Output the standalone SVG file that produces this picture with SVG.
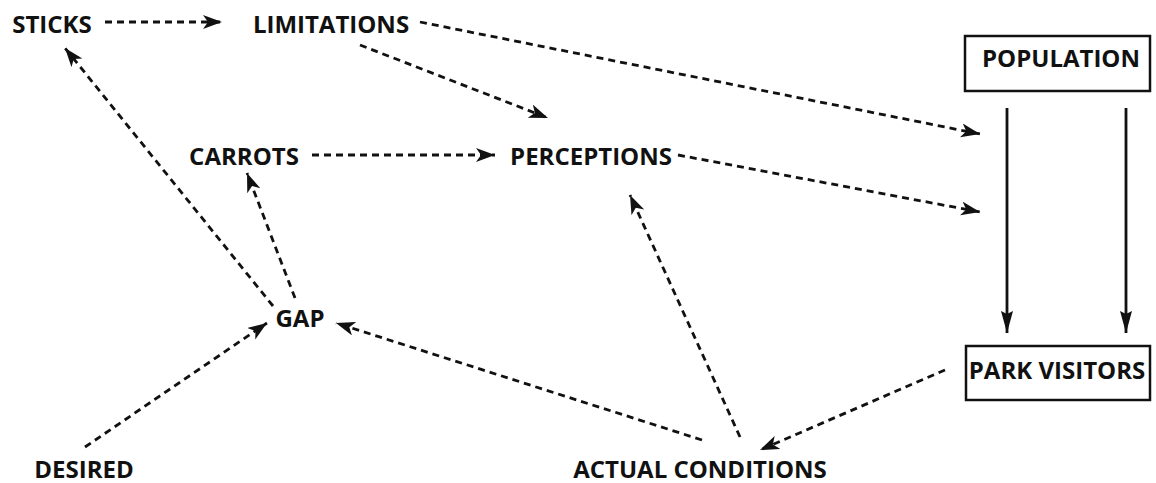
<svg xmlns="http://www.w3.org/2000/svg" width="1156" height="483" viewBox="0 0 1156 483">
<style>
text{font-family:"Open Sans","Liberation Sans",sans-serif;font-weight:bold;font-size:24px;fill:#111;text-anchor:middle}
.d{stroke:#111;stroke-width:2.8;stroke-dasharray:7 5;fill:none;marker-end:url(#ah)}
.s{stroke:#111;stroke-width:2.8;fill:none;marker-end:url(#sh)}
.box{fill:#fff;stroke:#111;stroke-width:2.5}
</style>
<defs>
<marker id="ah" markerUnits="userSpaceOnUse" markerWidth="22" markerHeight="16" refX="19" refY="7" orient="auto">
<path d="M0,0 L19,7 L0,14 L5,7 z" fill="#111"/>
</marker>
<marker id="sh" markerUnits="userSpaceOnUse" markerWidth="24" markerHeight="14" refX="22" refY="6" orient="auto">
<path d="M0,0 L22,6 L0,12 L3,6 z" fill="#111"/>
</marker>
</defs>
<rect width="1156" height="483" fill="#fff"/>
<g id="connectors">
<line class="d" x1="105" y1="22" x2="222" y2="22"/>
<line class="d" x1="420" y1="22" x2="980" y2="134"/>
<line class="d" x1="360" y1="45" x2="548" y2="118"/>
<line class="d" x1="312" y1="155" x2="495" y2="155"/>
<line class="d" x1="678" y1="155" x2="980" y2="212"/>
<line class="d" x1="273" y1="306" x2="65" y2="48"/>
<line class="d" x1="295" y1="298" x2="247" y2="173"/>
<line class="d" x1="85" y1="447" x2="267" y2="323"/>
<line class="d" x1="702" y1="440" x2="336" y2="323"/>
<line class="d" x1="740" y1="437" x2="630" y2="195"/>
<line class="d" x1="945" y1="370" x2="760" y2="450"/>
<line class="s" x1="1007" y1="108" x2="1007" y2="333"/>
<line class="s" x1="1126" y1="108" x2="1126" y2="333"/>
</g>
<g id="sticks"><text x="52" y="33">STICKS</text></g>
<g id="limitations"><text x="331" y="33">LIMITATIONS</text></g>
<g id="carrots"><text x="244" y="165">CARROTS</text></g>
<g id="perceptions"><text x="591" y="165">PERCEPTIONS</text></g>
<g id="gap"><text x="300" y="327">GAP</text></g>
<g id="desired"><text x="84" y="478">DESIRED</text></g>
<g id="actual-conditions"><text x="700" y="478">ACTUAL CONDITIONS</text></g>
<g id="population"><rect class="box" x="965" y="36" width="185" height="55"/><text x="1061" y="67">POPULATION</text></g>
<g id="park-visitors"><rect class="box" x="966" y="346" width="184" height="54"/><text x="1057" y="379">PARK VISITORS</text></g>
</svg>
